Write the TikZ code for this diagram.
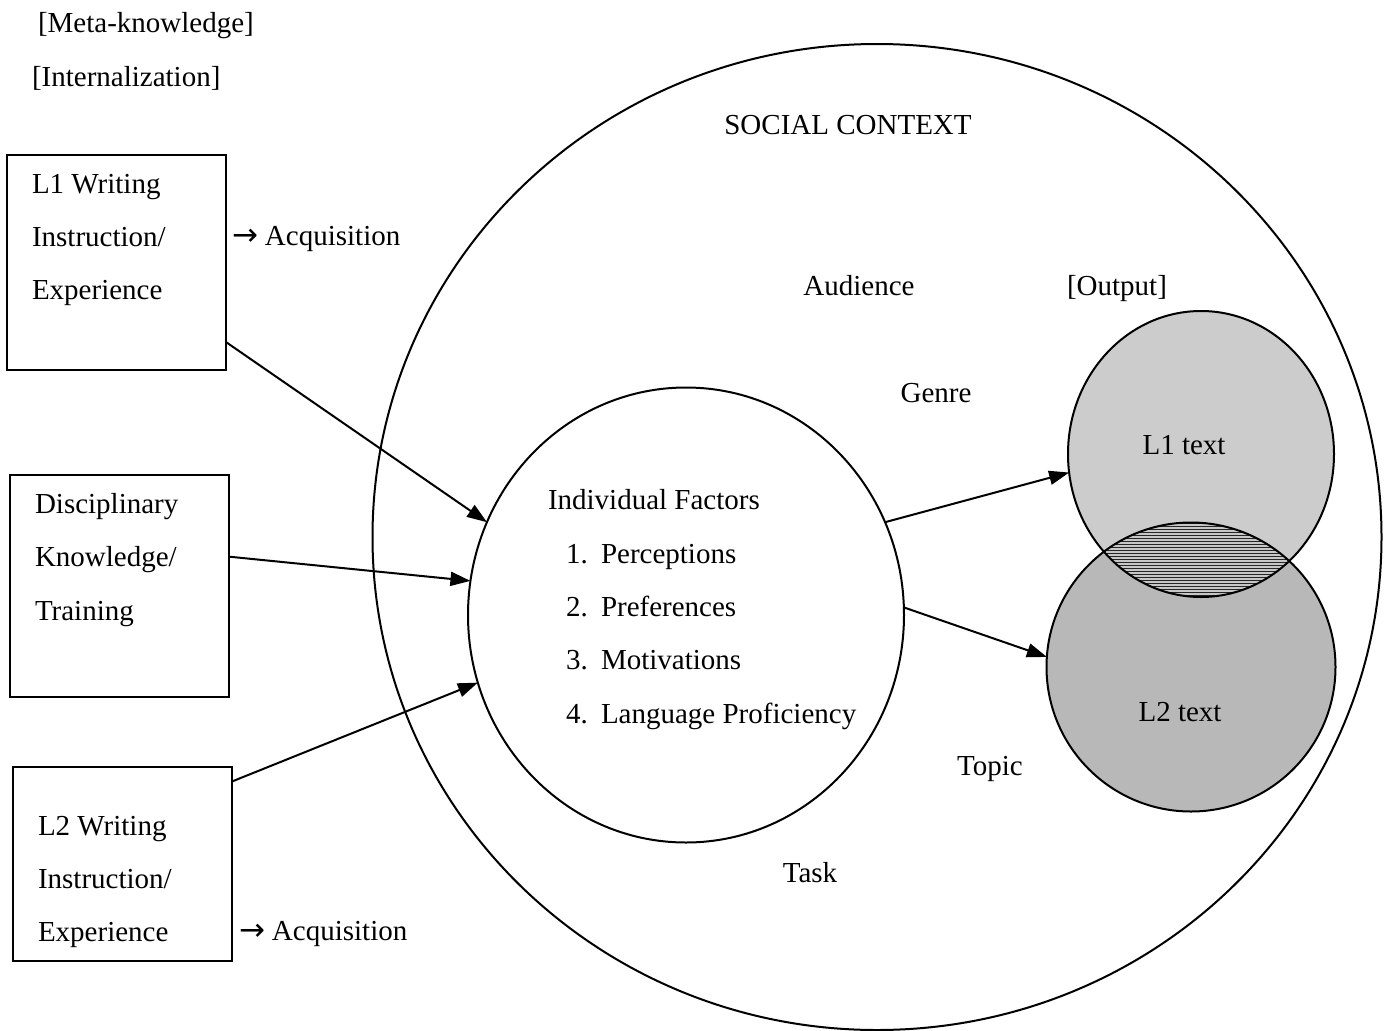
\documentclass[tikz,border=0pt]{standalone}
\usepackage{fontspec}
\setmainfont{Liberation Serif}
\newfontfamily\arrowfont{DejaVu Sans}
\usetikzlibrary{arrows.meta,shapes.geometric,patterns,calc}
\begin{document}
\begin{tikzpicture}[x=1pt,y=-1pt,
  every node/.style={font=\fontsize{29}{34}\selectfont, inner sep=0pt, outer sep=0pt},
  lbl/.style={anchor=base west},
  clbl/.style={anchor=base},
  boxnode/.style n args={2}{draw, line width=2pt, rectangle, minimum width=#1, minimum height=#2},
  ring/.style={draw, line width=2pt, ellipse},
  link/.style={line width=2pt, -{Triangle[length=20pt,width=14pt]}}
]
\useasboundingbox (0,0) rectangle (1390,1031);

% outer social context
\node[ring, minimum width=1009pt, minimum height=986pt] (social) at (877,537) {};

% inner circle
\node[ring, minimum width=436pt, minimum height=455pt] (indiv) at (686,615) {};

% output circles
\coordinate (c1) at (1201,454);
\coordinate (c2) at (1191,667);
\fill[black!20] (c1) circle[x radius=133pt, y radius=143pt];
\fill[black!28] (c2) circle[radius=144.5pt];
\begin{scope}
  \clip (c1) circle[x radius=133pt, y radius=143pt];
  \fill[black!22] (c2) circle[radius=144.5pt];
  \fill[pattern=horizontal lines, pattern color=black!85] (c2) circle[radius=144.5pt];
\end{scope}
\node[ring, fill=none, minimum width=266pt, minimum height=286pt] (l1t) at (c1) {};
\node[ring, fill=none, minimum width=289pt, minimum height=289pt] (l2t) at (c2) {};

% boxes
\node[boxnode={219pt}{215pt}] (l1box) at (116.5,262.5) {};
\node[boxnode={219pt}{222pt}] (discbox) at (119.5,586) {};
\node[boxnode={219pt}{194pt}] (l2box) at (122.5,864) {};

% top labels
\node[lbl] (meta) at (38,32) {[Meta-knowledge]};
\node[lbl] (intern) at (32,86) {[Internalization]};

% box texts
\node[lbl] (t11) at (32,193) {L1 Writing};
\node[lbl] (t12) at (32,246) {Instruction/};
\node[lbl] (t13) at (32,299) {Experience};
\node[lbl] (acq1) at (232,245) {{\arrowfont\fontsize{31}{34}\selectfont →}\hspace{7pt}Acquisition};

\node[lbl] (t21) at (35,513) {Disciplinary};
\node[lbl] (t22) at (35,566) {Knowledge/};
\node[lbl] (t23) at (35,620) {Training};

\node[lbl] (t31) at (38,835) {L2 Writing};
\node[lbl] (t32) at (38,888) {Instruction/};
\node[lbl] (t33) at (38,941) {Experience};
\node[lbl] (acq2) at (239,940) {{\arrowfont\fontsize{31}{34}\selectfont →}\hspace{7pt}Acquisition};

% context labels
\node[clbl] (sc) at (848,134) {SOCIAL CONTEXT};
\node[clbl] (aud) at (859,295) {Audience};
\node[clbl] (outp) at (1117,295) {[Output]};
\node[clbl] (genre) at (936,402) {Genre};
\node[clbl] (topic) at (990,775) {Topic};
\node[clbl] (task) at (810,882) {Task};
\node[clbl] (l1lab) at (1184,454) {L1 text};
\node[clbl] (l2lab) at (1180,721) {L2 text};

% individual factors
\node[lbl] (if) at (548,509) {Individual Factors};
\node[lbl] (n1) at (566,563) {1.};
\node[lbl] (f1) at (601,563) {Perceptions};
\node[lbl] (n2) at (566,616) {2.};
\node[lbl] (f2) at (601,616) {Preferences};
\node[lbl] (n3) at (566,669) {3.};
\node[lbl] (f3) at (601,669) {Motivations};
\node[lbl] (n4) at (566,723) {4.};
\node[lbl] (f4) at (601,723) {Language Proficiency};

% connectors
\draw[link] (l1box.-36) -- (indiv.155);
\draw[link] (discbox.15) -- (indiv.171);
\draw[link] (l2box.37) -- (indiv.198);
\draw[link] (indiv.25) -- (l1t.188);
\draw[link] (indiv.2) -- (l2t.176);
\end{tikzpicture}
\end{document}
